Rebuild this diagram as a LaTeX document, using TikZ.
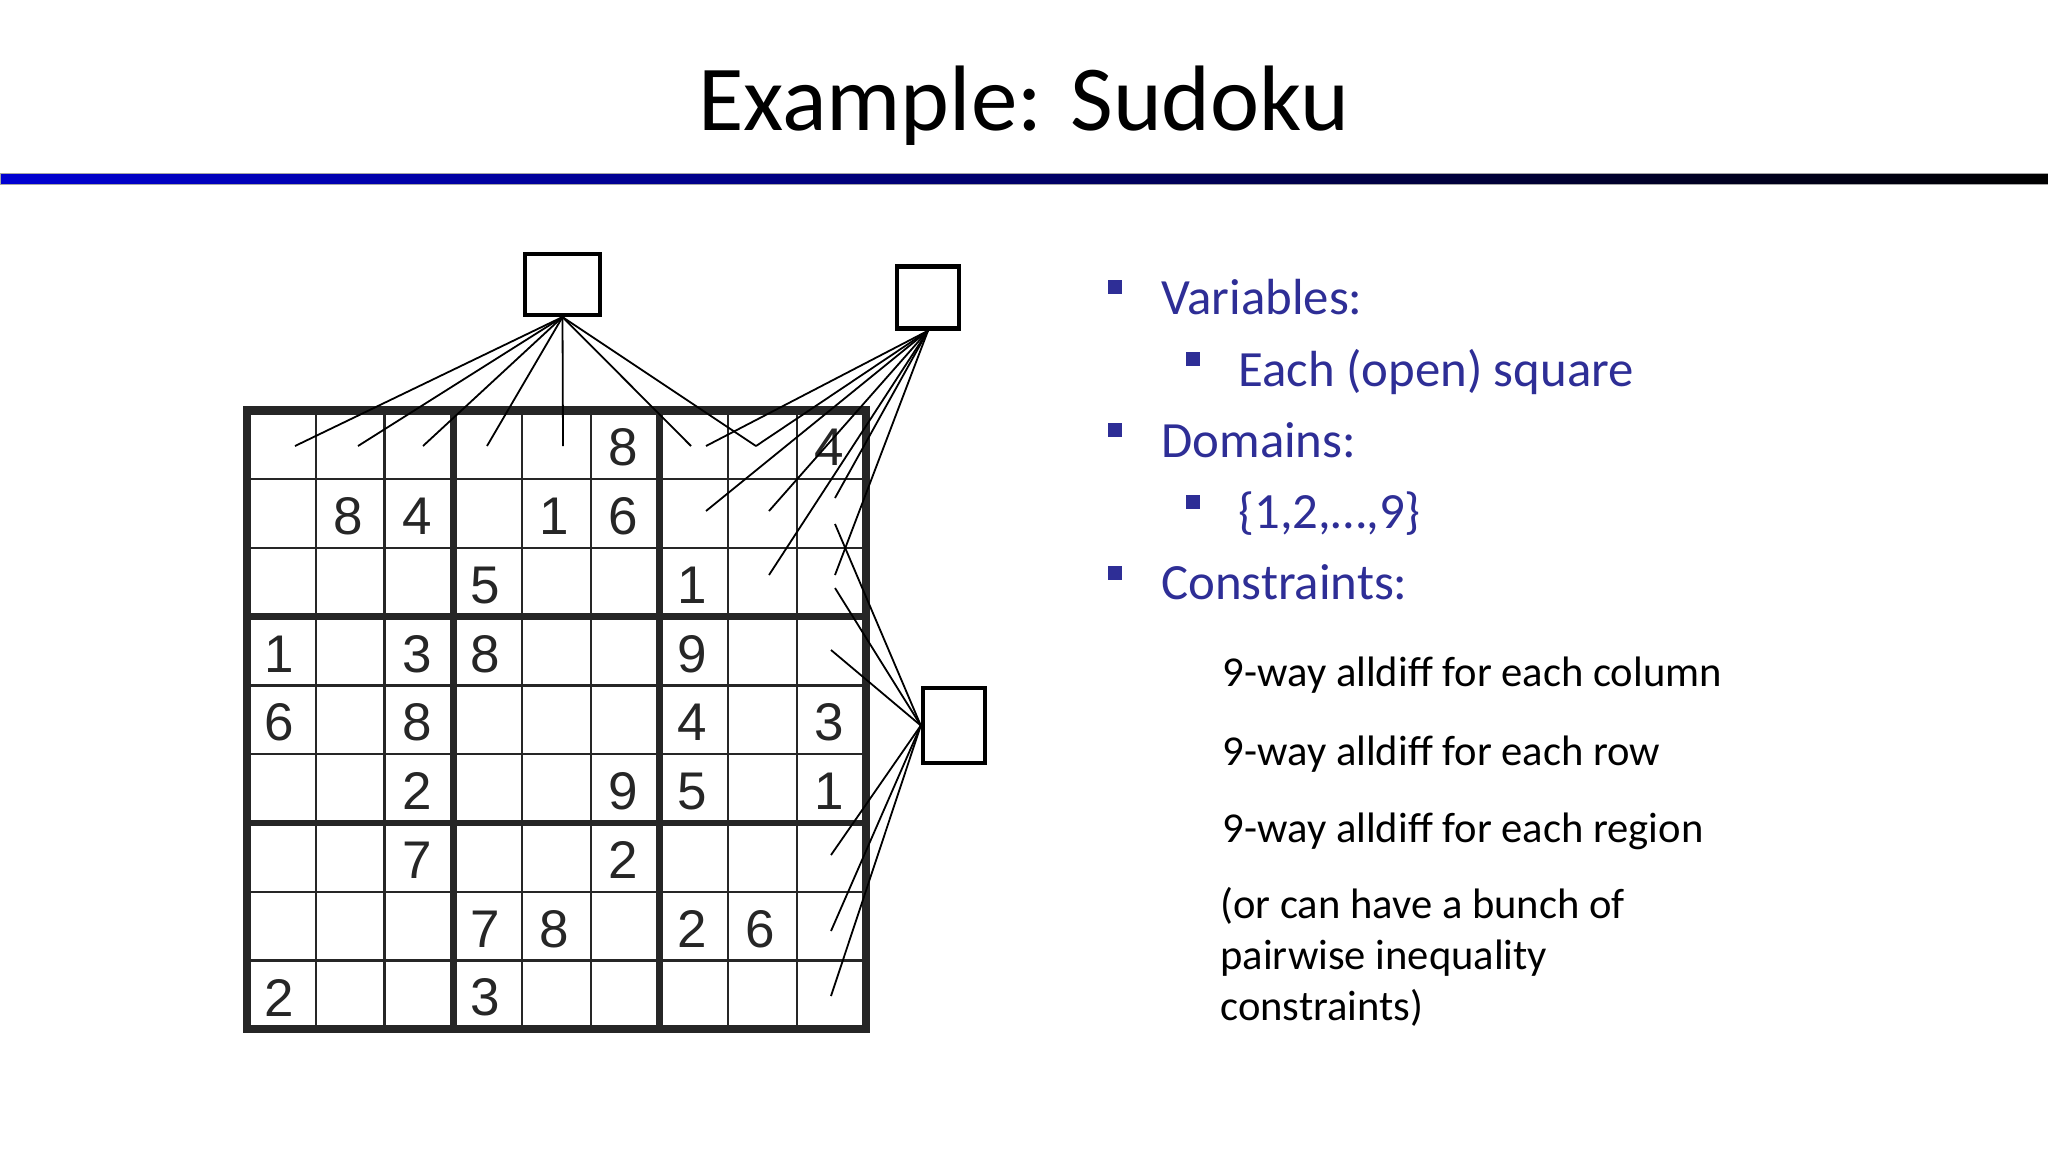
\documentclass[tikz,border=0pt]{standalone}
\usepackage{fontspec}
\setmainfont{Carlito}
\newfontfamily\digitfont{Liberation Sans}
\definecolor{itemblue}{RGB}{46,46,150}
\definecolor{barblue}{RGB}{0,0,210}
\definecolor{gridgray}{RGB}{38,38,38}

\begin{document}
\begin{tikzpicture}[x=0.5pt,y=-0.5pt,
                    box node/.style={draw,line width=2.2pt,inner sep=0pt},
                    link/.style={line width=0.9pt},
                    digit/.style={font=\digitfont\fontsize{26.5}{27}\selectfont,text=gridgray,inner sep=0pt},
                    bullet/.style={fill=itemblue,inner sep=0pt,minimum size=7pt},
                    item/.style={anchor=base west,inner sep=0pt,text=itemblue,font=\fontsize{25.4}{30}\selectfont},
                    note/.style={anchor=base west,inner sep=0pt,font=\fontsize{21.3}{25}\selectfont}]
  \useasboundingbox[fill=white] (0,0) rectangle (2048,1152);

  %title%
  \node[anchor=base,inner sep=0pt,font=\fontsize{46.5}{56}\selectfont] (title) at (1024,130) {Example: Sudoku};
  \shadedraw[left color=barblue,right color=black,draw=gray!70,line width=0.4pt] (0,173) rectangle (2048,184);

  %grid%
  \begin{scope}[shift={(247,410.5)},x=34.375pt,y=-34.375pt]
    \foreach \i in {1,2,4,5,7,8}
      \draw[gridgray,line width=1.2pt] (\i,0) -- (\i,9) (0,\i) -- (9,\i);
    \foreach \i in {3,6}
      \draw[gridgray,line width=3.3pt] (\i,0) -- (\i,9) (0,\i) -- (9,\i);
    \draw[gridgray,line width=4.2pt] (0,0) rectangle (9,9);
    \foreach \r/\c/\d in {0/5/8, 0/8/4,
                          1/1/8, 1/2/4, 1/4/1, 1/5/6,
                          2/3/5, 2/6/1,
                          3/0/1, 3/2/3, 3/3/8, 3/6/9,
                          4/0/6, 4/2/8, 4/6/4, 4/8/3,
                          5/2/2, 5/5/9, 5/6/5, 5/8/1,
                          6/2/7, 6/5/2,
                          7/3/7, 7/4/8, 7/6/2, 7/7/6,
                          8/0/2, 8/3/3}
      \node[digit] (d\r\c) at (\c+0.47,\r+0.54) {\d};
  \end{scope}

  %constraint boxes%
  \node[box node,minimum width=37.3pt,minimum height=30.3pt] (1) at (562.5,284.5) {};
  \node[box node,minimum width=31pt,minimum height=31pt] (2) at (928,297.5) {};
  \node[box node,minimum width=31pt,minimum height=37.3pt] (3) at (954,725.5) {};

  \foreach \n/\x/\y in {a1/295/446, a2/358/446, a3/423/446, a4/487/446,
                        a5/563/446, a6/691/446, a7/756/446,
                        b1/706/446, b2/756/446, b3/706/511, b4/769/511,
                        b5/835/498, b6/769/575, b7/835/575,
                        c1/835/524, c2/835/588, c3/831/650,
                        c4/831/855, c5/831/931, c6/831/996}
    \coordinate (\n) at (\x,\y);

  \path[link]
    (1.south) edge (a1)
    	edge (a2)
    	edge (a3)
    	edge (a4)
    	edge (a5)
    	edge (a6)
    	edge (a7)
    (2.south) edge (b1)
    	edge (b2)
    	edge (b3)
    	edge (b4)
    	edge (b5)
    	edge (b6)
    	edge (b7)
    (3.west) edge (c1)
    	edge (c2)
    	edge (c3)
    	edge (c4)
    	edge (c5)
    	edge (c6);

  %bullets%
  \node[bullet] (v) at (1114.5,287) {};
  \node[item] (vt) at (1161,314) {Variables:};
  \node[bullet] (e) at (1192.5,359) {};
  \node[item] (et) at (1238,386) {Each (open) square};
  \node[bullet] (dm) at (1114.5,430) {};
  \node[item] (dmt) at (1161,457) {Domains:};
  \node[bullet] (s) at (1192.5,501.5) {};
  \node[item] (st) at (1238,528) {\{1,2,…,9\}};
  \node[bullet] (c) at (1114.5,572.5) {};
  \node[item] (ct) at (1161,599) {Constraints:};

  \node[note] (n1) at (1222.5,686) {9-way alldiff for each column};
  \node[note] (n2) at (1222.5,765) {9-way alldiff for each row};
  \node[note] (n3) at (1222.5,842) {9-way alldiff for each region};
  \node[note] (n4) at (1220,918) {(or can have a bunch of};
  \node[note] (n5) at (1220,969) {pairwise inequality};
  \node[note] (n6) at (1220,1020) {constraints)};
\end{tikzpicture}
\end{document}
